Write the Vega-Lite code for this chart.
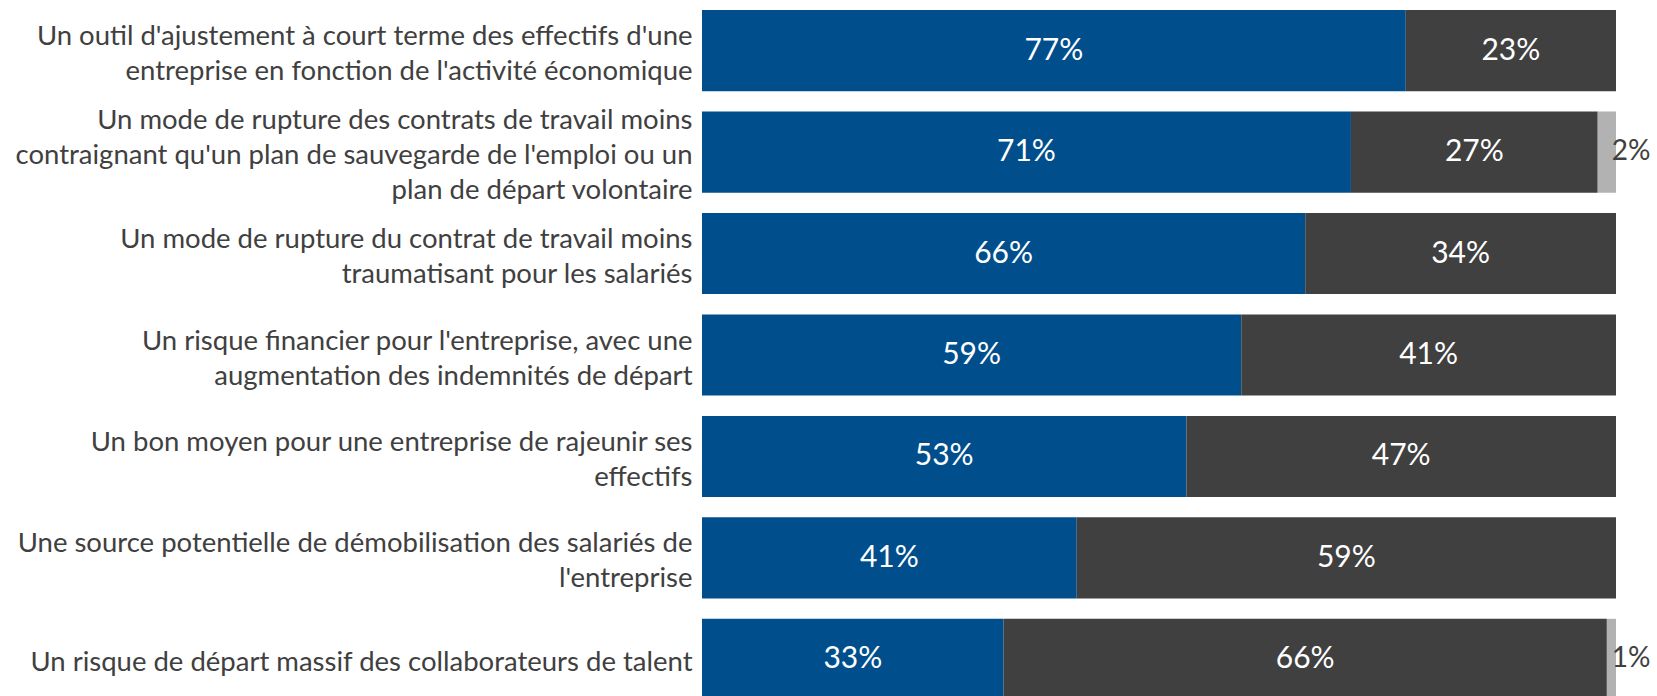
{
  "$schema": "https://vega.github.io/schema/vega-lite/v6.json",
  "width": 914,
  "height": 710,
  "autosize": {"type": "none"},
  "padding": {"left": 702, "top": 0, "right": 41, "bottom": 0},
  "background": "white",
  "config": {"view": {"stroke": null}, "font": "Lato"},
  "data": {
    "values": [
      {"item": "Un outil d'ajustement à court terme des effectifs d'une|entreprise en fonction de l'activité économique", "serie": "A", "rang": 1, "value": 77},
      {"item": "Un outil d'ajustement à court terme des effectifs d'une|entreprise en fonction de l'activité économique", "serie": "B", "rang": 2, "value": 23},
      {"item": "Un mode de rupture des contrats de travail moins|contraignant qu'un plan de sauvegarde de l'emploi ou un|plan de départ volontaire", "serie": "A", "rang": 1, "value": 71},
      {"item": "Un mode de rupture des contrats de travail moins|contraignant qu'un plan de sauvegarde de l'emploi ou un|plan de départ volontaire", "serie": "B", "rang": 2, "value": 27},
      {"item": "Un mode de rupture des contrats de travail moins|contraignant qu'un plan de sauvegarde de l'emploi ou un|plan de départ volontaire", "serie": "C", "rang": 3, "value": 2},
      {"item": "Un mode de rupture du contrat de travail moins|traumatisant pour les salariés", "serie": "A", "rang": 1, "value": 66},
      {"item": "Un mode de rupture du contrat de travail moins|traumatisant pour les salariés", "serie": "B", "rang": 2, "value": 34},
      {"item": "Un risque financier pour l'entreprise, avec une|augmentation des indemnités de départ", "serie": "A", "rang": 1, "value": 59},
      {"item": "Un risque financier pour l'entreprise, avec une|augmentation des indemnités de départ", "serie": "B", "rang": 2, "value": 41},
      {"item": "Un bon moyen pour une entreprise de rajeunir ses|effectifs", "serie": "A", "rang": 1, "value": 53},
      {"item": "Un bon moyen pour une entreprise de rajeunir ses|effectifs", "serie": "B", "rang": 2, "value": 47},
      {"item": "Une source potentielle de démobilisation des salariés de|l'entreprise", "serie": "A", "rang": 1, "value": 41},
      {"item": "Une source potentielle de démobilisation des salariés de|l'entreprise", "serie": "B", "rang": 2, "value": 59},
      {"item": "Un risque de départ massif des collaborateurs de talent", "serie": "A", "rang": 1, "value": 33},
      {"item": "Un risque de départ massif des collaborateurs de talent", "serie": "B", "rang": 2, "value": 66},
      {"item": "Un risque de départ massif des collaborateurs de talent", "serie": "C", "rang": 3, "value": 1}
    ]
  },
  "transform": [
    {"stack": "value", "groupby": ["item"], "sort": [{"field": "rang", "order": "ascending"}], "as": ["x0", "x1"]},
    {"calculate": "(datum.x0 + datum.x1) / 2", "as": "xm"},
    {"calculate": "datum.value + '%'", "as": "lab"}
  ],
  "encoding": {
    "y": {
      "field": "item",
      "type": "nominal",
      "sort": null,
      "scale": {"paddingInner": 0.2, "paddingOuter": 0.0985},
      "axis": {
        "title": null,
        "domain": false,
        "ticks": false,
        "labelPadding": 10,
        "labelFontSize": 27.5,
        "labelColor": "#404040",
        "labelLineHeight": 35,
        "labelBaseline": "middle",
        "labelLimit": 0,
        "labelOffset": {"expr": "4 - (length(split(datum.value, '|')) - 1) * 17.5"},
        "labelExpr": "split(datum.value, '|')"
      }
    }
  },
  "layer": [
    {
      "mark": {"type": "bar"},
      "encoding": {
        "x": {"field": "x0", "type": "quantitative", "scale": {"domain": [0, 100]}, "axis": null},
        "x2": {"field": "x1"},
        "color": {
          "field": "serie",
          "type": "nominal",
          "scale": {"domain": ["A", "B", "C"], "range": ["#004F8C", "#404040", "#B2B2B2"]},
          "legend": null
        }
      }
    },
    {
      "transform": [{"filter": "datum.value >= 5"}],
      "mark": {"type": "text", "color": "white", "fontSize": 30},
      "encoding": {
        "x": {"field": "xm", "type": "quantitative"},
        "text": {"field": "lab"}
      }
    },
    {
      "transform": [{"filter": "datum.value < 5"}],
      "mark": {"type": "text", "color": "#404040", "fontSize": 28, "align": "center", "dx": 15},
      "encoding": {
        "x": {"field": "x1", "type": "quantitative"},
        "text": {"field": "lab"}
      }
    }
  ]
}
